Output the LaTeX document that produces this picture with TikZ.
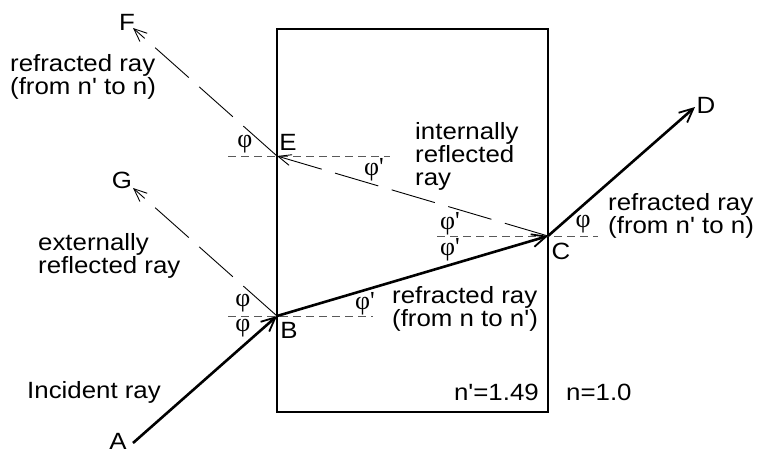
\documentclass[tikz,border=0pt]{standalone}
\usepackage{fontspec}
\setmainfont{Liberation Sans}[FakeStretch=1.1, Ligatures=TeXOff]
\newfontfamily\greekfont{Liberation Serif}[Ligatures=TeXOff]
\usepackage{tikz}
\usetikzlibrary{arrows.meta,positioning}

\newcommand{\labfont}{\fontsize{23.5}{23}\selectfont}
\newcommand{\angfont}{\greekfont\fontsize{26}{26}\selectfont}

\begin{document}
\begin{tikzpicture}[
        x=1pt, y=-1pt,
        txt/.style={font=\labfont, inner sep=0pt, align=left},
        ang/.style={font=\angfont, inner sep=0pt},
        glass/.style={draw, line width=2.4pt},
        ray/.style={line width=2.6pt, -{Straight Barb[length=14pt, width=13pt, line width=1.8pt]}},
        weak/.style={line width=0.9pt, dash pattern=on 45pt off 14pt,
          -{Straight Barb[length=13pt, width=11pt, line width=0.9pt]}},
        normal/.style={line width=0.9pt, black!65, dash pattern=on 8pt off 5pt}
      ]
        \useasboundingbox (0,0) rectangle (761,453);
        \draw[glass] (277,29) rectangle (548,412);
        \coordinate (A) at (133,443);
        \coordinate (B) at (277,316);
        \coordinate (C) at (548,236);
        \coordinate (D) at (695,107);
        \coordinate (E) at (277,156);
        \coordinate (F) at (133,28);
        \coordinate (G) at (133,188);
        \draw[normal] ([xshift=-49pt]E) -- ([xshift=113pt]E);
        \draw[normal] ([xshift=-49pt]B) -- ([xshift=96pt]B);
        \draw[normal] ([xshift=-111pt]C) -- ([xshift=50pt]C);
        \draw[ray] (A) -- (B);
        \draw[ray] (B) -- (C);
        \draw[ray] (C) -- (D);
        \draw[weak] (C) -- (E);
        \draw[weak] (E) -- (F);
        \draw[weak] (B) -- (G);
        \node[txt] (labA) at (118,441) {A};
        \node[txt] (labB) at (289,330) {B};
        \node[txt] (labC) at (561,251) {C};
        \node[txt] (labD) at (706,105) {D};
        \node[txt] (labE) at (288,142) {E};
        \node[txt] (labF) at (127,22) {F};
        \node[txt] (labG) at (122,180) {G};
        \node[txt, anchor=west] (outF) at (10,77) {refracted ray\\(from n' to n)};
        \node[txt, anchor=west] (outG) at (38,256) {externally\\reflected ray};
        \node[txt, anchor=west] (inc) at (27,392) {Incident ray};
        \node[txt, anchor=west] (intl) at (415,156) {internally\\reflected\\ray};
        \node[txt, anchor=west] (outD) at (608,216) {refracted ray\\(from n' to n)};
        \node[txt, anchor=west] (inBC) at (392,309) {refracted ray\\(from n to n')};
        \node[txt, anchor=east] (nin) at (539,392) {n'=1.49};
        \node[txt, anchor=west] (nout) at (566,392) {n=1.0};
        \node[ang] (phE) at (245,144) {φ};
        \node[ang] (phEi) at (374,170) {φ'};
        \node[ang] (phCa) at (450,224) {φ'};
        \node[ang] (phCb) at (450,250) {φ'};
        \node[ang] (phCo) at (583,224) {φ};
        \node[ang] (phBa) at (243,303) {φ};
        \node[ang] (phBb) at (243,328) {φ};
        \node[ang] (phBi) at (365,304) {φ'};
      \end{tikzpicture}
\end{document}
